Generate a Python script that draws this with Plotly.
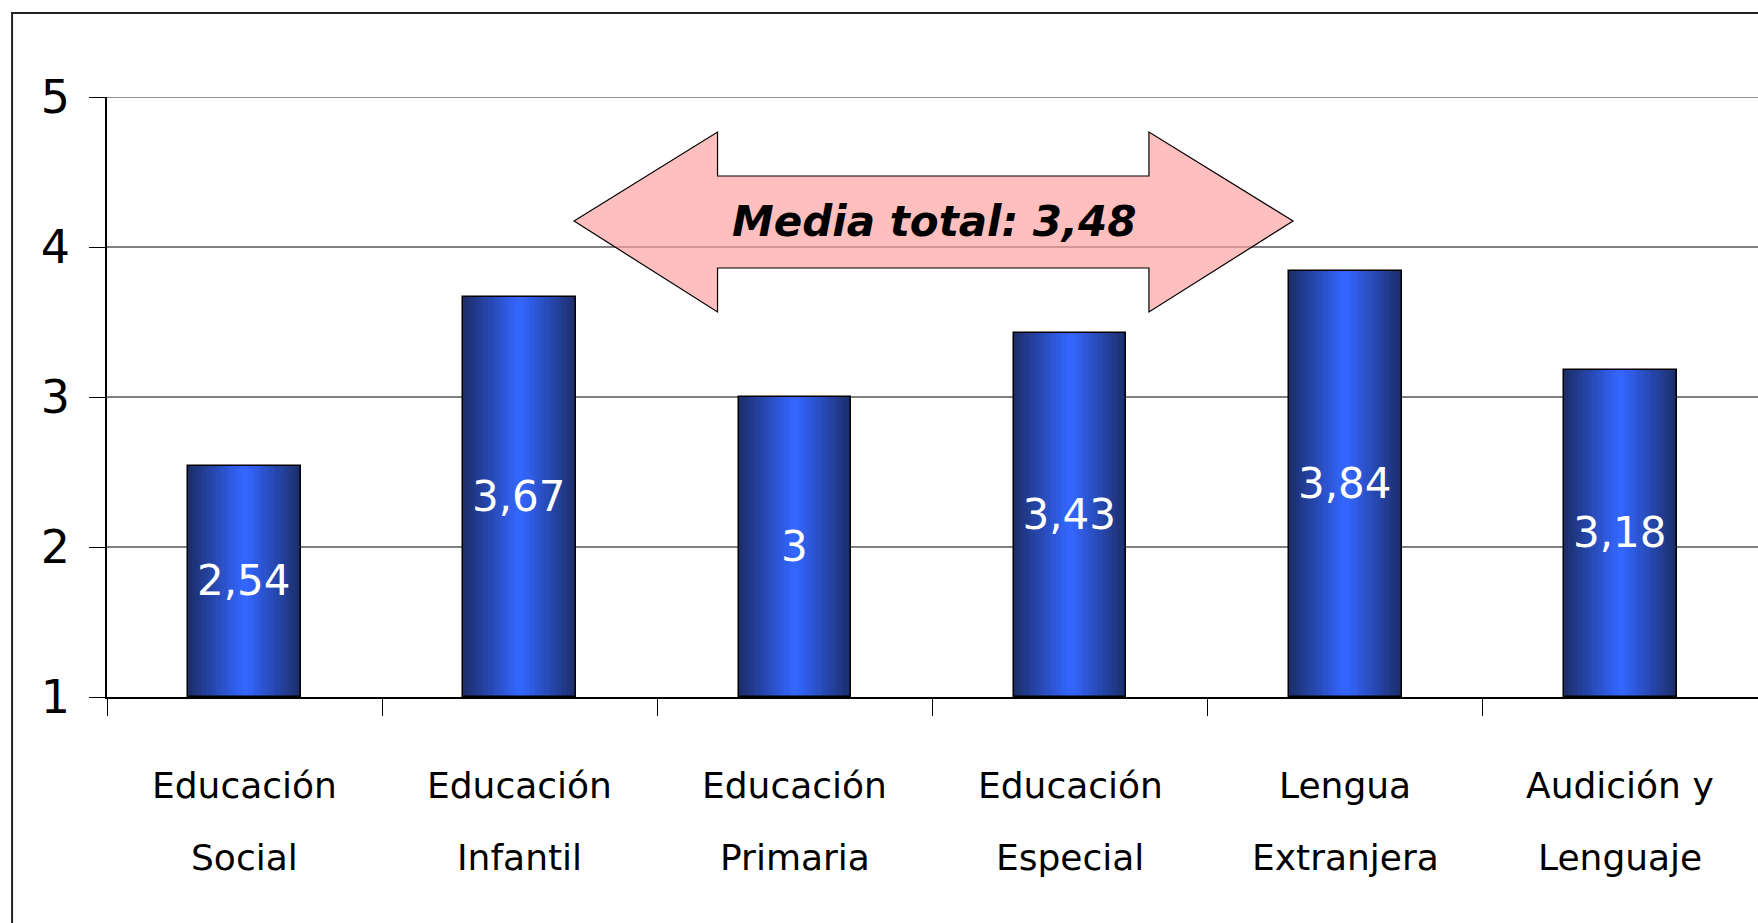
import plotly.graph_objects as go

categories = ["Educación Social", "Educación Infantil", "Educación Primaria",
              "Educación Especial", "Lengua Extranjera", "Audición y Lenguaje"]
label_line1 = ["Educación", "Educación", "Educación", "Educación", "Lengua", "Audición y"]
label_line2 = ["Social", "Infantil", "Primaria", "Especial", "Extranjera", "Lenguaje"]
values = [2.54, 3.67, 3.00, 3.43, 3.84, 3.18]
mean_text = "Media total: 3,48"
y_ticks = [1, 2, 3, 4, 5]
y_max = 5

FONT = "DejaVu Sans"
dark = (28, 46, 108)
bright = (51, 102, 255)
bar_width = 0.41
N = 16

fig = go.Figure()
# gradient built from overlaid bars of decreasing width
for k in range(N):
    t = k / (N - 1)
    c = tuple(int(round(dark[i] + (bright[i] - dark[i]) * t)) for i in range(3))
    w = bar_width * (1 - k / N)
    fig.add_trace(go.Bar(
        x=categories, y=[v - 1 for v in values], base=1,
        width=w, marker=dict(color=f"rgb{c}", line=dict(width=0)),
        hoverinfo="skip", showlegend=False,
    ))
# outline + value labels on top
fig.add_trace(go.Bar(
    x=categories, y=[v - 1 for v in values], base=1, width=bar_width,
    marker=dict(color="rgba(0,0,0,0)", line=dict(color="black", width=1.5)),
    text=[f"{v:g}".replace(".", ",") for v in values],
    textposition="inside", insidetextanchor="middle", textangle=0,
    constraintext="none",
    textfont=dict(family=FONT, size=42, color="white"),
    showlegend=False,
))

# two-line category labels
for cat, l1, l2 in zip(categories, label_line1, label_line2):
    fig.add_annotation(x=cat, y=-0.1467, xref="x", yref="paper", text=l1,
                       showarrow=False, yanchor="middle",
                       font=dict(family=FONT, size=36, color="black"))
    fig.add_annotation(x=cat, y=-0.268, xref="x", yref="paper", text=l2,
                       showarrow=False, yanchor="middle",
                       font=dict(family=FONT, size=36, color="black"))

# top gridline (at the range edge)
fig.add_shape(type="line", xref="paper", yref="y", x0=0, x1=1.01, y0=y_max, y1=y_max,
              line=dict(color="#909090", width=2), layer="below")

# double arrow callout
pts = [(0.2829, 0.7933), (0.3698, 0.9417), (0.3698, 0.8683), (0.6311, 0.8683),
       (0.6311, 0.9417), (0.7184, 0.7933), (0.6311, 0.6417), (0.6311, 0.715),
       (0.3698, 0.715), (0.3698, 0.6417)]
path = "M " + " L ".join(f"{x},{y}" for x, y in pts) + " Z"
fig.add_shape(type="path", path=path, xref="paper", yref="paper",
              fillcolor="rgba(255,160,160,0.67)",
              line=dict(color="black", width=1.2), layer="above")
fig.add_annotation(x=0.501, y=0.7933, xref="paper", yref="paper", text=mean_text,
                   showarrow=False, yanchor="middle",
                   font=dict(family=FONT, size=42, color="black",
                             weight="bold", style="italic"))

# outer frame
fig.add_shape(type="rect", xref="paper", yref="paper",
              x0=-0.0575, y0=-0.4, x1=1.02, y1=1.14,
              line=dict(color="#222", width=2), fillcolor="rgba(0,0,0,0)",
              layer="below")

fig.update_layout(
    width=1758, height=923,
    margin=dict(l=107, r=0, t=97, b=226),
    paper_bgcolor="white", plot_bgcolor="white",
    barmode="overlay", bargap=0,
    showlegend=False,
)
fig.update_xaxes(
    type="category", range=[-0.5, 5.5], showgrid=False,
    showline=True, linecolor="black", linewidth=1.5,
    ticks="outside", tickson="boundaries", ticklen=17, tickcolor="black",
    showticklabels=False,
)
fig.update_yaxes(
    range=[1, y_max], tickvals=y_ticks, ticktext=[str(t) for t in y_ticks],
    showgrid=True, gridcolor="#808080", gridwidth=1.5,
    showline=True, linecolor="black", linewidth=1.5,
    ticks="outside", ticklen=16, tickcolor="black",
    ticklabelstandoff=10,
    tickfont=dict(family=FONT, size=46, color="black"),
    zeroline=False,
)

fig.write_html("out.html", config={"displayModeBar": False},
               post_script="document.body.style.margin='0';")
